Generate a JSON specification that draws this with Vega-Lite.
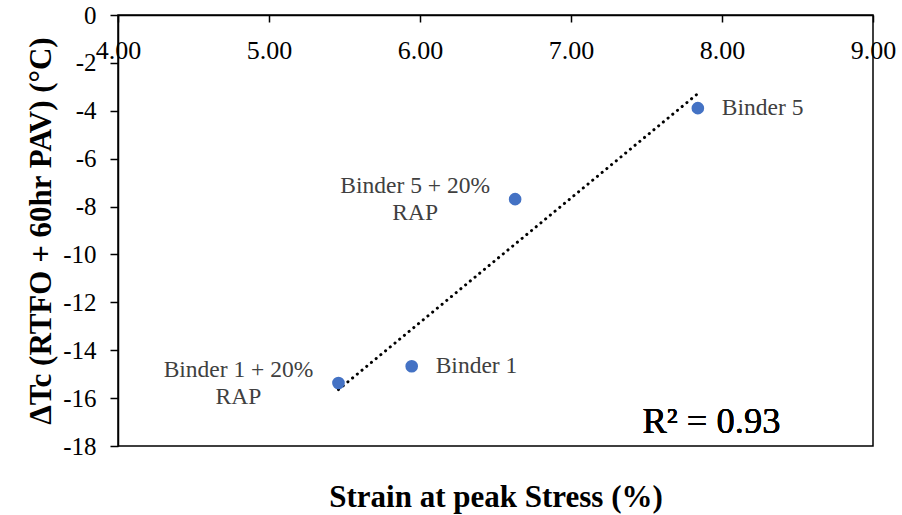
{
  "$schema": "https://vega.github.io/schema/vega-lite/v6.json",
  "width": 755,
  "height": 431,
  "autosize": "none",
  "padding": {"left": 118, "top": 15, "right": 29, "bottom": 69},
  "background": "white",
  "config": {
    "font": "Liberation Serif",
    "view": {"stroke": "black", "strokeWidth": 1.5},
    "axis": {"grid": false, "domainColor": "black", "tickColor": "black", "labelColor": "black", "titleColor": "black", "domainWidth": 1.5, "tickWidth": 1.5, "labelFont": "Liberation Serif", "titleFont": "Liberation Serif"}
  },
  "data": {
    "values": [
      {"strain": 7.84, "dtc": -3.89, "label": "Binder 5"},
      {"strain": 6.63, "dtc": -7.69, "label": "Binder 5 + 20%\nRAP"},
      {"strain": 5.945, "dtc": -14.67, "label": "Binder 1"},
      {"strain": 5.46, "dtc": -15.37, "label": "Binder 1 + 20%\nRAP"}
    ]
  },
  "encoding": {
    "x": {
      "field": "strain", "type": "quantitative",
      "scale": {"domain": [4, 9], "nice": false, "zero": false},
      "axis": {
        "orient": "bottom", "offset": -431, "values": [4, 5, 6, 7, 8, 9], "format": ".2f",
        "tickSize": 7, "labelPadding": 15, "labelFontSize": 26, "labelFlush": false,
        "title": "Strain at peak Stress (%)", "titleFontSize": 31, "titleFontWeight": "bold",
        "titleY": 491, "titleBaseline": "alphabetic"
      }
    },
    "y": {
      "field": "dtc", "type": "quantitative",
      "scale": {"domain": [-18, 0], "nice": false, "zero": false},
      "axis": {
        "values": [-18, -16, -14, -12, -10, -8, -6, -4, -2, 0],
        "labelExpr": "'' + datum.value",
        "tickSize": 8, "labelPadding": 14, "labelFontSize": 25,
        "title": "ΔTc (RTFO + 60hr PAV) (°C)", "titleFontSize": 31, "titleFontWeight": "bold", "titlePadding": 5
      }
    }
  },
  "layer": [
    {
      "transform": [{"regression": "dtc", "on": "strain"}],
      "mark": {"type": "line", "color": "black", "strokeWidth": 3, "strokeDash": [0.1, 6], "strokeCap": "round"}
    },
    {
      "mark": {"type": "circle", "size": 160, "color": "#4472C4", "opacity": 1}
    },
    {
      "transform": [{"filter": "indexof(datum.label, 'RAP') < 0"}],
      "mark": {"type": "text", "align": "left", "baseline": "middle", "dx": 24, "fontSize": 23.5, "color": "#404040"},
      "encoding": {"text": {"field": "label"}}
    },
    {
      "transform": [{"filter": "indexof(datum.label, 'RAP') >= 0"}],
      "mark": {"type": "text", "align": "center", "baseline": "middle", "dx": -100, "dy": -13, "fontSize": 23.5, "lineHeight": 27, "lineBreak": "\n", "color": "#404040"},
      "encoding": {"text": {"field": "label"}}
    },
    {
      "mark": {"type": "text", "align": "center", "baseline": "alphabetic", "fontSize": 36.5, "color": "black"},
      "encoding": {
        "x": {"datum": 7.93},
        "y": {"datum": -17.45},
        "text": {"value": "R² = 0.93"}
      }
    }
  ]
}
